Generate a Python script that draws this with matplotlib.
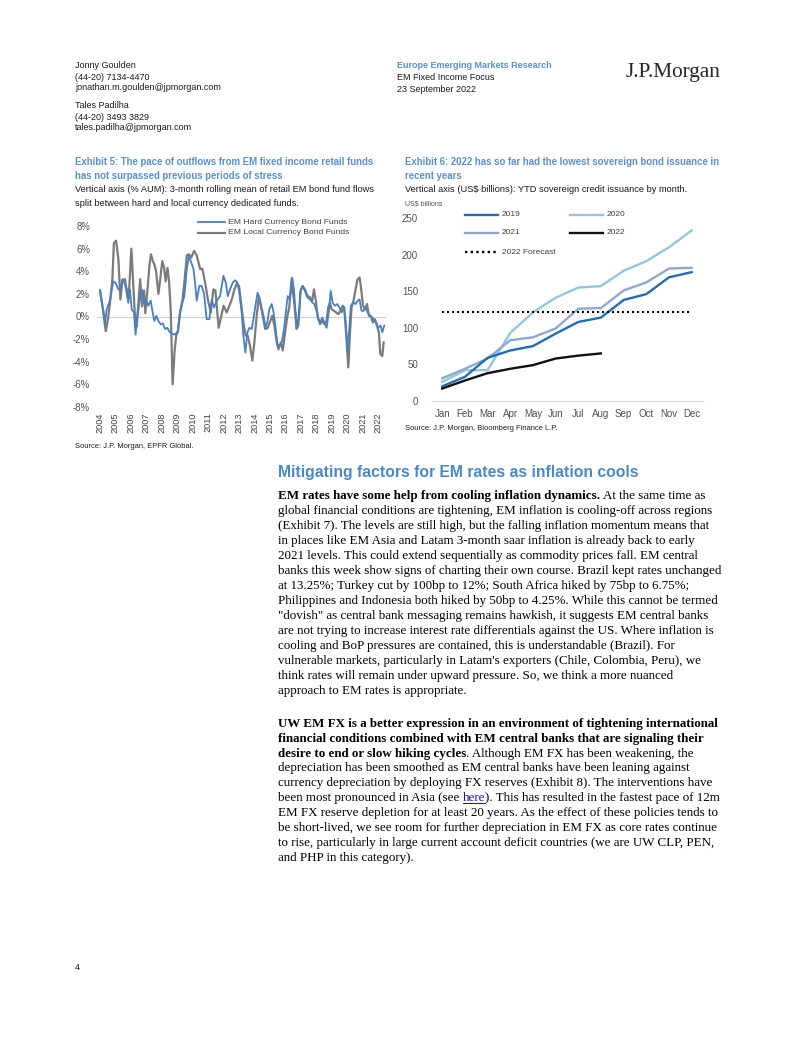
import matplotlib
matplotlib.use("Agg")
import matplotlib.pyplot as plt
from matplotlib.lines import Line2D
from matplotlib.ticker import FuncFormatter

# ---------------- data ----------------
# Exhibit 5: 3m rolling mean of retail EM bond fund flows (% AUM)
hard_t = [2004.0, 2004.2, 2004.32, 2004.43, 2004.52, 2004.65, 2004.86, 2005.0, 2005.19, 2005.3,
          2005.45, 2005.58, 2005.72, 2005.83, 2005.94, 2006.05, 2006.2, 2006.3, 2006.43, 2006.54,
          2006.7, 2006.8, 2006.9, 2007.0, 2007.12, 2007.28, 2007.39, 2007.52, 2007.65, 2007.78,
          2007.93, 2008.06, 2008.21, 2008.36, 2008.47, 2008.6, 2008.85, 2009.03, 2009.18, 2009.33,
          2009.46, 2009.61, 2009.75, 2009.9, 2010.05, 2010.15, 2010.26, 2010.43, 2010.58, 2010.74,
          2010.9, 2011.08, 2011.23, 2011.38, 2011.56, 2011.77, 2011.99, 2012.14, 2012.27, 2012.42,
          2012.59, 2012.74, 2012.89, 2013.02, 2013.17, 2013.28, 2013.41, 2013.54, 2013.67, 2013.82,
          2013.93, 2014.06, 2014.2, 2014.35, 2014.53, 2014.68, 2014.83, 2014.96, 2015.11, 2015.22,
          2015.37, 2015.48, 2015.61, 2015.76, 2015.91, 2016.05, 2016.15, 2016.29, 2016.44, 2016.55,
          2016.66, 2016.77, 2016.88, 2016.98, 2017.11, 2017.26, 2017.42, 2017.59, 2017.74, 2017.87,
          2018.02, 2018.13, 2018.24, 2018.39, 2018.52, 2018.67, 2018.82, 2018.93, 2019.05, 2019.2,
          2019.36, 2019.49, 2019.64, 2019.79, 2019.92, 2020.03, 2020.13, 2020.24, 2020.39, 2020.54,
          2020.67, 2020.8, 2020.93, 2021.06, 2021.19, 2021.32, 2021.47, 2021.62, 2021.75, 2021.88,
          2022.01, 2022.16, 2022.27, 2022.4]
hard_v = [2.3, 0.6, -0.7, 0.65, 0.95, 1.5, 3.1, 3.0, 2.4, 2.3,
          3.3, 3.0, 2.3, 1.2, 2.4, 0.65, 0.36, -1.6, 0.06, 1.2,
          2.4, 1.9, 1.2, 1.4, 0.95, 1.4, 0.5, -0.4, 0.06, -0.4,
          -0.7, -0.6, -1.1, -1.0, -1.3, -1.5, -1.6, -1.3, 0.35, 1.2,
          1.8, 4.1, 5.3, 4.8, 4.2, 3.0, 1.4, 2.7, 2.7, 2.0,
          -0.24, -0.24, 1.5, 0.8, 1.4, 1.8, 3.6, 3.0, 1.8, 2.4,
          3.0, 3.2, 3.0, 2.1, 0.36, -1.7, -3.2, -1.4, -1.0, -1.1,
          -0.24, 0.95, 2.1, 1.4, 0.06, -1.1, -0.5, 0.65, 1.1, 0.5,
          -1.1, -2.45, -2.6, -2.3, -1.1, 0.65, 1.8, 1.5, 3.45, 2.4,
          0.36, -0.8, -0.09, 2.27, 2.7, 2.27, 1.7, 1.5, 1.24, 1.1,
          0.5, -0.24, -0.53, -0.09, -0.53, -1.0, 0.5, 2.27, 1.24, 0.95,
          1.1, 0.8, 0.36, 0.8, -0.8, -3.2, -1.1, 0.95, 1.24, 1.1,
          1.39, 1.5, 0.5, 0.5, 0.8, 0.36, 0.06, -0.09, -0.38, -0.53,
          -1.0, -0.8, -1.4, -0.8]

local_t = [2004.0, 2004.22, 2004.37, 2004.5, 2004.65, 2004.8, 2004.9, 2005.04, 2005.19, 2005.32,
           2005.45, 2005.62, 2005.77, 2005.9, 2006.03, 2006.16, 2006.27, 2006.37, 2006.5, 2006.6,
           2006.72, 2006.85, 2006.93, 2007.08, 2007.2, 2007.3, 2007.42, 2007.52, 2007.63, 2007.78,
           2007.9, 2008.03, 2008.15, 2008.25, 2008.37, 2008.47, 2008.58, 2008.7, 2008.83, 2008.93,
           2009.05, 2009.18, 2009.33, 2009.46, 2009.62, 2009.75, 2009.9, 2010.09, 2010.26, 2010.48,
           2010.63, 2010.8, 2011.02, 2011.17, 2011.34, 2011.47, 2011.68, 2011.83, 2012.0, 2012.2,
           2012.37, 2012.53, 2012.7, 2012.85, 2013.0, 2013.13, 2013.28, 2013.43, 2013.56, 2013.71,
           2013.86, 2013.99, 2014.14, 2014.29, 2014.42, 2014.57, 2014.73, 2014.86, 2015.0, 2015.15,
           2015.29, 2015.44, 2015.55, 2015.7, 2015.83, 2015.98, 2016.13, 2016.25, 2016.4, 2016.57,
           2016.72, 2016.83, 2016.98, 2017.11, 2017.26, 2017.42, 2017.59, 2017.74, 2017.85, 2017.96,
           2018.08, 2018.24, 2018.39, 2018.52, 2018.67, 2018.77, 2018.88, 2018.99, 2019.14, 2019.28,
           2019.42, 2019.56, 2019.7, 2019.81, 2019.94, 2020.07, 2020.17, 2020.28, 2020.41, 2020.54,
           2020.67, 2020.8, 2020.91, 2021.02, 2021.15, 2021.28, 2021.41, 2021.53, 2021.66, 2021.79,
           2021.92, 2022.05, 2022.14, 2022.27, 2022.36]
local_v = [2.3, 0.36, -1.3, -0.36, 1.24, 3.3, 6.5, 6.7, 5.1, 1.5,
           3.2, 3.3, 1.8, 2.7, 6.0, 2.7, -0.2, -0.9, 1.5, 3.3,
           0.9, 2.3, 0.3, 2.5, 4.5, 5.5, 4.9, 4.6, 4.0, 2.0,
           3.3, 4.9, 4.3, 3.1, 4.3, 3.1, 0.5, -6.0, -3.0, -1.7,
           -1.3, 0.35, 1.4, 3.0, 5.4, 5.5, 5.2, 5.8, 5.4, 4.2,
           4.2, 3.0, 1.24, 0.36, 2.4, 2.3, -1.0, -0.1, 0.95, 0.36,
           0.95, 1.5, 2.4, 2.9, 2.7, 1.24, -0.5, -1.7, -1.7, -2.6,
           -3.9, -2.3, 0.06, 1.8, 0.95, 0.06, -1.1, -1.0, -0.5, 0.06,
           -0.8, -2.3, -2.9, -2.3, -3.0, -1.4, 0.06, 0.8, 3.3, 1.24,
           -1.1, -0.8, 2.27, 2.7, 2.4, 1.83, 1.7, 1.4, 2.4, 1.5,
           0.06, -0.68, -0.38, -0.68, -0.38, 0.8, 1.2, 0.65, 0.5, 0.36,
           0.2, 0.5, 0.95, 0.8, -1.7, -4.5, -1.7, 0.8, 1.39, 2.4,
           3.3, 3.45, 2.4, 0.95, 0.65, 1.1, 0.06, 0.06, -0.53, -0.24,
           -0.8, -1.4, -3.3, -3.5, -2.3]

years = list(range(2004, 2023))
pct_ticks = [-8, -6, -4, -2, 0, 2, 4, 6, 8]

# Exhibit 6: YTD sovereign credit issuance (US$ bn)
months = ['Jan', 'Feb', 'Mar', 'Apr', 'May', 'Jun', 'Jul', 'Aug', 'Sep', 'Oct', 'Nov', 'Dec']
iss_2019 = [20, 33, 59, 69, 75, 92, 108, 114, 138, 146, 169, 176]
iss_2020 = [26, 42, 42, 93, 121, 141, 155, 157, 178, 191, 210, 233]
iss_2021 = [31, 44, 58, 83, 87, 99, 126, 127, 151, 162, 181, 182]
iss_2022 = [17, 28, 38, 44, 49, 58, 62, 65]
forecast_2022 = 121
usd_ticks = [0, 50, 100, 150, 200, 250]

# ---------------- page ----------------
W, H = 802, 1037
fig = plt.figure(figsize=(W / 100, H / 100), dpi=100)
fig.patch.set_facecolor('white')
R = fig.canvas.get_renderer()

SANS = 'Liberation Sans'
SERIF = 'Liberation Serif'
BLUE_T = '#5b8fc9'
TXT = '#1a1a1a'


def fx(x):
    return x / W


def fy(y):
    return 1 - y / H


def width_of(s, size, **kw):
    t = fig.text(0, 0, s, fontsize=size, **kw)
    w = t.get_window_extent(R).width
    t.remove()
    return w


def fit(s, target, **kw):
    return 10 * target / width_of(s, 10, **kw)


def put(x, y, s, size, va='center', **kw):
    return fig.text(fx(x), fy(y), s, fontsize=size, va=va, ha=kw.pop('ha', 'left'), **kw)


# header
hs = fit("jonathan.m.goulden@jpmorgan.com", 146, family=SANS)
for yy, s in zip([66, 77, 88, 106, 117, 128],
                 ["Jonny Goulden", "(44-20) 7134-4470", "jonathan.m.goulden@jpmorgan.com",
                  "Tales Padilha", "(44-20) 3493 3829", "tales.padilha@jpmorgan.com"]):
    put(75, yy, s, hs, family=SANS, color=TXT)
put(397, 66, "Europe Emerging Markets Research", hs, family=SANS, color=BLUE_T, weight='bold')
put(397, 77, "EM Fixed Income Focus", hs, family=SANS, color=TXT)
put(397, 89, "23 September 2022", hs, family=SANS, color=TXT)
ls = fit("J.P.Morgan", 95, family=SERIF)
put(626, 72, "J.P.Morgan", ls, family=SERIF, color='#2b2420')

# exhibit titles
ts = fit("Exhibit 5: The pace of outflows from EM fixed income retail funds", 299, family=SANS, weight='bold')
put(75, 162, "Exhibit 5: The pace of outflows from EM fixed income retail funds", ts, family=SANS, weight='bold', color=BLUE_T)
put(75, 176, "has not surpassed previous periods of stress", ts, family=SANS, weight='bold', color=BLUE_T)
ss = fit("Vertical axis (% AUM): 3-month rolling mean of retail EM bond fund flows", 299, family=SANS)
put(75, 190, "Vertical axis (% AUM): 3-month rolling mean of retail EM bond fund flows", ss, family=SANS, color=TXT)
put(75, 203, "split between hard and local currency dedicated funds.", ss, family=SANS, color=TXT)

put(405, 162, "Exhibit 6: 2022 has so far had the lowest sovereign bond issuance in", ts, family=SANS, weight='bold', color=BLUE_T)
put(405, 176, "recent years", ts, family=SANS, weight='bold', color=BLUE_T)
put(405, 189, "Vertical axis (US$ billions): YTD sovereign credit issuance by month.", ss, family=SANS, color=TXT)

srcs = fit("Source: J.P. Morgan, EPFR Global.", 117, family=SANS)
put(75, 446, "Source: J.P. Morgan, EPFR Global.", srcs, family=SANS, color=TXT)
put(405, 429, "Source: J.P. Morgan, Bloomberg Finance L.P.", srcs, family=SANS, color=TXT)

# ---------------- Exhibit 5 chart ----------------
L, Rr, T, B = 97, 386, 226, 407
ax1 = fig.add_axes([fx(L), fy(B), (Rr - L) / W, (B - T) / H])
ax1.set_facecolor('none')
ppy = 15.45
ax1.set_xlim(2004 + (L - 100) / ppy, 2004 + (Rr - 100) / ppy)
ax1.set_ylim(-8, 8)
ax1.axhline(0, color='#d0d0d0', lw=0.8, zorder=1)
ax1.plot(local_t, local_v, color='#7b7b7b', lw=1.6, zorder=2, solid_joinstyle='round')
ax1.plot(hard_t, hard_v, color='#4a7fc1', lw=1.3, zorder=3, solid_joinstyle='round')
for sp in ax1.spines.values():
    sp.set_visible(False)
ax1.set_xticks(years)
ax1.set_xticklabels([str(y) for y in years], rotation=90, fontsize=6.6, family=SANS, color='#404040')
ax1.set_yticks(pct_ticks)
ax1.yaxis.set_major_formatter(FuncFormatter(lambda v, p: f"{int(v)}%"))
ax1.tick_params(axis='y', length=0, pad=5, labelsize=6.9, labelcolor='#505050')
ax1.tick_params(axis='x', length=0, pad=4)
for lab in ax1.get_yticklabels():
    lab.set_family(SANS)

legs = fit("EM Hard Currency Bond Funds", 119, family=SANS)
fig.add_artist(Line2D([fx(198), fx(225)], [fy(222), fy(222)], color='#4a7fc1', lw=1.3))
fig.add_artist(Line2D([fx(198), fx(225)], [fy(233), fy(233)], color='#7b7b7b', lw=1.6))
put(228, 222, "EM Hard Currency Bond Funds", legs, family=SANS, color='#404040')
put(228, 233, "EM Local Currency Bond Funds", legs, family=SANS, color='#404040')

# ---------------- Exhibit 6 chart ----------------
L2, R2, T2, B2 = 432, 703, 218, 401
ax2 = fig.add_axes([fx(L2), fy(B2), (R2 - L2) / W, (B2 - T2) / H])
ax2.set_facecolor('none')
xi = list(range(len(months)))
ax2.set_xlim(-0.45, 11.5)
ax2.set_ylim(0, 250)
c19, c20, c21, c22 = '#1f6db7', '#92c6de', '#8fa8d0', '#111111'
ax2.plot(xi, iss_2020, color=c20, lw=1.7, zorder=2)
ax2.plot(xi, iss_2021, color=c21, lw=1.7, zorder=3)
ax2.plot(xi, iss_2019, color=c19, lw=1.7, zorder=4)
ax2.plot(xi[:len(iss_2022)], iss_2022, color=c22, lw=1.7, zorder=5)
ax2.plot(xi, [forecast_2022] * len(xi), color='black', lw=1.5, ls=(0, (1, 1.4)), zorder=6)
for k, sp in ax2.spines.items():
    sp.set_visible(k == 'bottom')
ax2.spines['bottom'].set_color('#d9d9d9')
ax2.set_xticks(xi)
ax2.set_xticklabels(months, fontsize=7.0, family=SANS, color='#505050')
ax2.set_yticks(usd_ticks)
ax2.set_yticklabels([str(v) for v in usd_ticks], fontsize=7.0, family=SANS, color='#505050')
ax2.tick_params(axis='y', length=0, pad=10)
ax2.tick_params(axis='x', length=0, pad=6)

put(405, 204, "US$ billions", 5.0, family=SANS, color='#505050')
l2s = fit("2022 Forecast", 54, family=SANS)
for (x0, y0, col, lab, style) in [(465, 215, c19, "2019", '-'), (570, 215, c20, "2020", '-'),
                                  (465, 233, c21, "2021", '-'), (570, 233, c22, "2022", '-'),
                                  (465, 252, 'black', "2022 Forecast", (0, (1, 1.4)))]:
    fig.add_artist(Line2D([fx(x0), fx(x0 + 33)], [fy(y0), fy(y0)], color=col, lw=1.7, ls=style))
    put(x0 + 37, y0, lab, l2s, family=SANS, color='#404040')

# ---------------- body text ----------------
hd = fit("Mitigating factors for EM rates as inflation cools", 358, family=SANS, weight='bold')
put(278, 473, "Mitigating factors for EM rates as inflation cools", hd, family=SANS, weight='bold', color='#4a89c8')

bs = fit("global financial conditions are tightening, EM inflation is cooling-off across regions", 440, family=SERIF)
space_w = width_of("a a", bs, family=SERIF) - width_of("aa", bs, family=SERIF)


def runs_line(x, yc, runs):
    yb = yc + 4
    for txt, sty in runs:
        lead = len(txt) - len(txt.lstrip(' '))
        x += lead * space_w
        txt = txt.lstrip(' ')
        kw = dict(family=SERIF, color='black')
        if sty == 'b':
            kw['weight'] = 'bold'
        if sty == 'link':
            kw['color'] = '#1a0dab'
        t = fig.text(fx(x), fy(yb), txt, fontsize=bs, va='baseline', ha='left', **kw)
        w = t.get_window_extent(R).width
        if sty == 'link':
            fig.add_artist(Line2D([fx(x), fx(x + w)], [fy(yb + 1.5), fy(yb + 1.5)], color='#1a0dab', lw=0.7))
        x += w


para1 = [
    [("EM rates have some help from cooling inflation dynamics.", 'b'), (" At the same time as", 'r')],
    [("global financial conditions are tightening, EM inflation is cooling-off across regions", 'r')],
    [("(Exhibit 7). The levels are still high, but the falling inflation momentum means that", 'r')],
    [("in places like EM Asia and Latam 3-month saar inflation is already back to early", 'r')],
    [("2021 levels. This could extend sequentially as commodity prices fall. EM central", 'r')],
    [("banks this week show signs of charting their own course. Brazil kept rates unchanged", 'r')],
    [("at 13.25%; Turkey cut by 100bp to 12%; South Africa hiked by 75bp to 6.75%;", 'r')],
    [("Philippines and Indonesia both hiked by 50bp to 4.25%. While this cannot be termed", 'r')],
    [("\"dovish\" as central bank messaging remains hawkish, it suggests EM central banks", 'r')],
    [("are not trying to increase interest rate differentials against the US. Where inflation is", 'r')],
    [("cooling and BoP pressures are contained, this is understandable (Brazil). For", 'r')],
    [("vulnerable markets, particularly in Latam's exporters (Chile, Colombia, Peru), we", 'r')],
    [("think rates will remain under upward pressure. So, we think a more nuanced", 'r')],
    [("approach to EM rates is appropriate.", 'r')],
]
para2 = [
    [("UW EM FX is a better expression in an environment of tightening international", 'b')],
    [("financial conditions combined with EM central banks that are signaling their", 'b')],
    [("desire to end or slow hiking cycles", 'b'), (". Although EM FX has been weakening, the", 'r')],
    [("depreciation has been smoothed as EM central banks have been leaning against", 'r')],
    [("currency depreciation by deploying FX reserves (Exhibit 8). The interventions have", 'r')],
    [("been most pronounced in Asia (see", 'r'), (" here", 'link'), ("). This has resulted in the fastest pace of 12m", 'r')],
    [("EM FX reserve depletion for at least 20 years. As the effect of these policies tends to", 'r')],
    [("be short-lived, we see room for further depreciation in EM FX as core rates continue", 'r')],
    [("to rise, particularly in large current account deficit countries (we are UW CLP, PEN,", 'r')],
    [("and PHP in this category).", 'r')],
]
for i, ln in enumerate(para1):
    runs_line(278, 495 + i * 15.0, ln)
for i, ln in enumerate(para2):
    runs_line(278, 722.7 + i * 14.9, ln)

put(75, 967, "4", hs, family=SANS, color=TXT)

fig.savefig("out.png", dpi=100, facecolor='white')
